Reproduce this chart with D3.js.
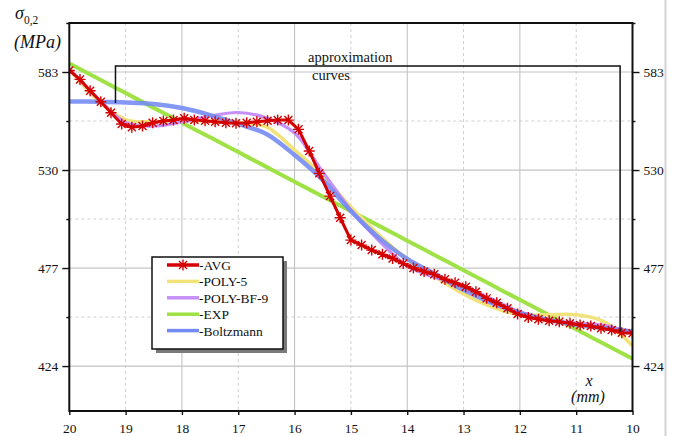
<!DOCTYPE html>
<html>
<head>
<meta charset="utf-8">
<script src="https://cdn.jsdelivr.net/npm/d3@7/dist/d3.min.js"></script>
<style>
  html, body { margin: 0; padding: 0; background: #fff; }
  svg { display: block; }
  text { font-family: "Liberation Serif", "Times New Roman", serif; fill: #111; }
</style>
</head>
<body>
<svg id="chart" width="682" height="436"></svg>
<script>
// Averaged measurements (x in mm, yield strength in MPa)
const avgX = [20, 19.81, 19.63, 19.44, 19.26, 19.07, 18.89, 18.70, 18.52, 18.33, 18.15,
  17.96, 17.78, 17.59, 17.41, 17.22, 17.04, 16.85, 16.67, 16.48, 16.30, 16.11, 15.93,
  15.74, 15.56, 15.37, 15.19, 15.00, 14.81, 14.63, 14.44, 14.26, 14.07, 13.89, 13.70,
  13.52, 13.33, 13.15, 12.96, 12.78, 12.59, 12.41, 12.22, 12.04, 11.85, 11.67, 11.48,
  11.30, 11.11, 10.93, 10.74, 10.56, 10.37, 10.19, 10.00];
const avgY = [583.8, 579.0, 572.9, 566.9, 561.0, 554.9, 553.1, 553.8, 555.6, 556.5, 557.0,
  558.0, 557.0, 556.7, 556.1, 555.6, 555.3, 555.6, 556.1, 556.7, 557.0, 557.0, 552.0,
  540.3, 528.2, 515.9, 504.2, 492.1, 489.4, 486.7, 484.4, 482.2, 479.4, 477.0, 475.1,
  473.6, 470.9, 469.0, 466.9, 464.2, 460.6, 458.2, 455.2, 452.1, 450.3, 449.3, 448.5,
  448.0, 447.1, 446.2, 445.6, 444.4, 443.5, 442.0, 441.7];

// Approximation curves sampled every 0.5 mm
const fitX = [20, 19.5, 19, 18.5, 18, 17.5, 17, 16.5, 16, 15.5, 15, 14.5, 14, 13.5, 13,
  12.5, 12, 11.5, 11, 10.5, 10];
const poly5Y = [584.6, 567.9, 557.3, 556.1, 556.8, 556.3, 555.6, 553.3, 540.9, 526.8, 510.0,
  494.9, 481.9, 472.2, 463.0, 456.0, 451.7, 451.7, 451.7, 447.9, 434.9];
const polyBf9Y = [584.6, 569.0, 555.7, 553.8, 556.0, 559.2, 561.1, 558.1, 550.0, 529.0, 508.4,
  491.7, 478.1, 471.9, 467.3, 460.3, 453.3, 449.2, 447.3, 446.0, 441.9];
const expY = [587.6, 579.6, 571.6, 563.6, 555.6, 547.7, 539.7, 531.7, 523.7, 515.7, 507.7,
  499.8, 491.8, 483.8, 475.8, 467.8, 459.8, 451.9, 443.9, 435.9, 427.9];
const boltzY = [567.1, 566.9, 566.5, 565.7, 563.5, 559.7, 554.9, 549.5, 538.1, 524.6, 507.8,
  493.3, 481.9, 473.6, 465.2, 458.2, 452.8, 449.0, 446.3, 444.4, 442.7];

// Axis ticks
const xTicks = [20, 19, 18, 17, 16, 15, 14, 13, 12, 11, 10];
const xMajorGrid = [18, 16, 14, 12];
const xMinorGrid = [19, 17, 15, 13, 11];
const yTicks = [424, 477, 530, 583];
const yMinor = [450.5, 503.5, 556.5, 609.5];

// Legend entries
const seriesNames = ["-AVG", "-POLY-5", "-POLY-BF-9", "-EXP", "-Boltzmann"];
const seriesColors = ["#d40000", "#f2e27a", "#c590f7", "#9ee245", "#7389f4"];

const svg = d3.select("#chart");
const pLeft = 69.3, pRight = 632.5, pTop = 23, pBottom = 411;

const x = d3.scaleLinear().domain([20, 10]).range([pLeft, pRight]);
const y = d3.scaleLinear().domain([399.7, 609.5]).range([pBottom, pTop]);

svg.append("rect").attr("width", 682).attr("height", 436).attr("fill", "#fff");
// thin page edge on the right
svg.append("line").attr("x1", 665.5).attr("x2", 665.5).attr("y1", 0).attr("y2", 436)
  .attr("stroke", "#d4d4d4").attr("stroke-width", 2);

// Grid
const grid = svg.append("g");
grid.selectAll(".vmaj").data(xMajorGrid).join("line")
  .attr("x1", d => x(d)).attr("x2", d => x(d)).attr("y1", pTop).attr("y2", pBottom)
  .attr("stroke", "#bdbdbd").attr("stroke-width", 1);
grid.selectAll(".vmin").data(xMinorGrid).join("line")
  .attr("x1", d => x(d)).attr("x2", d => x(d)).attr("y1", pTop).attr("y2", pBottom)
  .attr("stroke", "#cfcfcf").attr("stroke-width", 1).attr("stroke-dasharray", "3,3");
grid.selectAll(".hmaj").data(yTicks).join("line")
  .attr("x1", pLeft).attr("x2", pRight).attr("y1", d => y(d)).attr("y2", d => y(d))
  .attr("stroke", "#c4c4c4").attr("stroke-width", 1.2);
grid.selectAll(".hmin").data(yMinor.slice(0, 3)).join("line")
  .attr("x1", pLeft).attr("x2", pRight).attr("y1", d => y(d)).attr("y2", d => y(d))
  .attr("stroke", "#cfcfcf").attr("stroke-width", 1).attr("stroke-dasharray", "3,3");

// Curves
svg.append("defs").append("clipPath").attr("id", "plot")
  .append("rect").attr("x", pLeft).attr("y", pTop).attr("width", pRight - pLeft).attr("height", pBottom - pTop);
const plot = svg.append("g").attr("clip-path", "url(#plot)");

const fitLine = d3.line().x((d, i) => x(fitX[i])).y(d => y(d)).curve(d3.curveCatmullRom.alpha(0.5));

plot.append("path").attr("d", fitLine(expY)).attr("fill", "none")
  .attr("stroke", seriesColors[3]).attr("stroke-width", 4);
plot.append("path").attr("d", fitLine(poly5Y)).attr("fill", "none")
  .attr("stroke", seriesColors[1]).attr("stroke-width", 3.5);
plot.append("path").attr("d", fitLine(polyBf9Y)).attr("fill", "none")
  .attr("stroke", seriesColors[2]).attr("stroke-width", 3.2);
plot.append("path").attr("d", fitLine(boltzY)).attr("fill", "none")
  .attr("stroke", seriesColors[4]).attr("stroke-width", 4.5).attr("stroke-opacity", 0.88);

const avgLine = d3.line().x((d, i) => x(avgX[i])).y(d => y(d));
plot.append("path").attr("d", avgLine(avgY)).attr("fill", "none")
  .attr("stroke", seriesColors[0]).attr("stroke-width", 3);

const star = "M0,-5.5V5.5M-5.5,0H5.5M-4,-4L4,4M-4,4L4,-4";
plot.selectAll(".mk").data(avgY).join("path")
  .attr("transform", (d, i) => `translate(${x(avgX[i])},${y(d)})`)
  .attr("d", star).attr("fill", "none").attr("stroke", seriesColors[0]).attr("stroke-width", 1.4);

// Axes
const fmt = d3.format("d");
const axL = svg.append("g").attr("transform", `translate(${pLeft},0)`)
  .call(d3.axisLeft(y).tickValues(yTicks).tickSize(7).tickPadding(4).tickFormat(fmt));
const axLm = svg.append("g").attr("transform", `translate(${pLeft},0)`)
  .call(d3.axisLeft(y).tickValues(yMinor).tickSize(3).tickFormat(""));
const axR = svg.append("g").attr("transform", `translate(${pRight},0)`)
  .call(d3.axisRight(y).tickValues(yTicks).tickSize(7).tickPadding(4).tickFormat(fmt));
const axRm = svg.append("g").attr("transform", `translate(${pRight},0)`)
  .call(d3.axisRight(y).tickValues(yMinor).tickSize(3).tickFormat(""));
const axB = svg.append("g").attr("transform", `translate(0,${pBottom})`)
  .call(d3.axisBottom(x).tickValues(xTicks).tickSize(4).tickPadding(8).tickFormat(fmt));

[axL, axLm, axR, axRm, axB].forEach(g => {
  g.select(".domain").remove();
  g.selectAll(".tick line").attr("stroke", "#111").attr("stroke-width", 1.4);
  g.selectAll("text").attr("font-family", "Liberation Serif, serif").attr("font-size", 13.5).attr("fill", "#111");
});

// Frame
svg.append("rect").attr("x", pLeft).attr("y", pTop).attr("width", pRight - pLeft).attr("height", pBottom - pTop)
  .attr("fill", "none").attr("stroke", "#111").attr("stroke-width", 2);

// Bracket around the approximation curves
const bracket = d3.line().x(d => x(d[0])).y(d => y(d[1]));
svg.append("path")
  .attr("d", bracket([[19.18, 566.3], [19.18, 586.3], [10.22, 586.3], [10.22, 442.5]]))
  .attr("fill", "none").attr("stroke", "#111").attr("stroke-width", 1.5);
svg.append("text").attr("x", 308).attr("y", 62).attr("font-size", 14.5).text("approximation");
svg.append("text").attr("x", 312).attr("y", 80).attr("font-size", 14.5).text("curves");

// Axis titles
const yt = svg.append("text").attr("x", 15).attr("y", 19).attr("font-style", "italic").attr("font-size", 18);
yt.append("tspan").text("σ");
yt.append("tspan").attr("font-style", "normal").attr("font-size", 11.5).attr("dy", 5).text("0,2");
svg.append("text").attr("x", 14).attr("y", 48).attr("font-style", "italic").attr("font-size", 18).text("(MPa)");
svg.append("text").attr("x", 589).attr("y", 386).attr("text-anchor", "middle")
  .attr("font-style", "italic").attr("font-size", 16).text("x");
svg.append("text").attr("x", 588).attr("y", 402).attr("text-anchor", "middle")
  .attr("font-style", "italic").attr("font-size", 16).text("(mm)");

// Legend
const lg = svg.append("g").attr("transform", "translate(152,257)");
lg.append("rect").attr("x", 4).attr("y", 4).attr("width", 131).attr("height", 92).attr("fill", "#7a7a7a");
lg.append("rect").attr("width", 131).attr("height", 92).attr("fill", "#fff")
  .attr("stroke", "#111").attr("stroke-width", 1.5);
const rows = lg.selectAll(".row").data(seriesNames).join("g")
  .attr("transform", (d, i) => `translate(0,${8 + i * 16.4})`);
rows.append("line").attr("x1", 15).attr("x2", 47).attr("y1", 0).attr("y2", 0)
  .attr("stroke", (d, i) => seriesColors[i]).attr("stroke-width", 3.5);
rows.filter((d, i) => i === 0).append("path")
  .attr("transform", "translate(31,0)").attr("d", star)
  .attr("fill", "none").attr("stroke", seriesColors[0]).attr("stroke-width", 1.4);
rows.append("text").attr("x", 47).attr("y", 5).attr("font-size", 13.5).text(d => d);
</script>
</body>
</html>
